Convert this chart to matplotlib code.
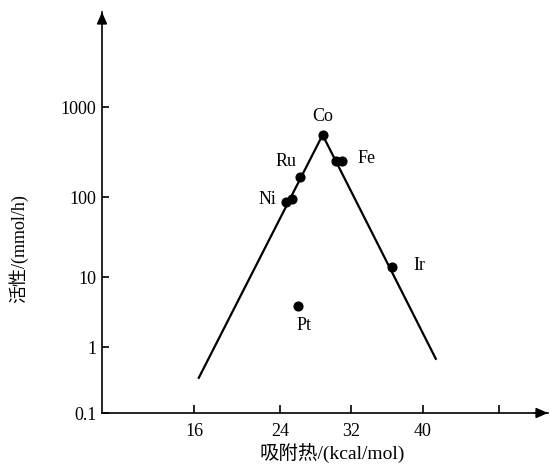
import numpy as np
import matplotlib
matplotlib.use('Agg')
import matplotlib.pyplot as plt

# 各金属的吸附热 (kcal/mol) 与活性 (mmol/h)
metals = ['Ni', 'Ni', 'Ru', 'Co', 'Fe', 'Fe', 'Ir', 'Pt']
heat = [24.7, 25.4, 26.3, 28.8, 30.3, 31.0, 36.6, 26.0]
activity = [87, 94, 166, 489, 249, 253, 13.2, 3.85]

# 火山型曲线（两段直线）
line_heat = [16.4, 28.8, 41.4]
line_act = [0.33, 489, 0.64]

xticks = [16, 24, 32, 40, 48]
xticklabels = ['16', '24', '32', '40', '']
yticks = [0.1, 1, 10, 100, 1000]
yticklabels = ['0.1', '1', '10', '100', '1000']

# 原图坐标轴刻度间距不均匀，用分段映射复现
x_ref = [8, 16, 24, 32, 40, 48, 53]
x_pos = [102, 194, 280, 351, 423, 499, 548]
y_ref = [-1, 0, 1, 2, 3, 4.06]
y_pos = [0, 66, 136, 216, 306, 401]


def fx(v):
    return np.interp(v, x_ref, x_pos)


def fx_inv(p):
    return np.interp(p, x_pos, x_ref)


def fy(v):
    return np.interp(np.log10(np.clip(v, 1e-6, None)), y_ref, y_pos)


def fy_inv(p):
    return 10 ** np.interp(p, y_pos, y_ref)


# 标注文字：(名称, 对应点序号, 偏移像素)
labels = [('Ni', 0, (-19, 2)), ('Ru', 2, (-14, 16)), ('Co', 3, (0, 18)),
          ('Fe', 5, (24, 2)), ('Ir', 6, (27, 2)), ('Pt', 7, (6, -19))]

serif = ['Liberation Serif', 'DejaVu Serif']
cjk = ['Liberation Serif', 'Noto Sans CJK SC', 'DejaVu Sans']

fig = plt.figure(figsize=(5.5, 4.67), dpi=100)
ax = fig.add_axes([102 / 550, 1 - 413 / 467, 446 / 550, 401 / 467])
ax.set_xscale('function', functions=(fx, fx_inv))
ax.set_yscale('function', functions=(fy, fy_inv))
ax.set_xlim(8, 53)
ax.set_ylim(0.1, 10 ** 4.06)

ax.plot(line_heat, line_act, color='k', lw=1.6, solid_capstyle='butt')
ax.plot(heat, activity, 'o', color='k', ms=6.3, mec='k')

for name, i, off in labels:
    ax.annotate(name, xy=(heat[i], activity[i]), xytext=off,
                textcoords='offset pixels', ha='center', va='center',
                fontsize=13, family=serif)

for s in ['top', 'right']:
    ax.spines[s].set_visible(False)
for s in ['left', 'bottom']:
    ax.spines[s].set_linewidth(1.2)

arrow = dict(arrowstyle='-|>,head_length=0.5,head_width=0.22', color='k',
             lw=1.2, mutation_scale=14, shrinkA=0, shrinkB=0)
ax.annotate('', xy=(0, 1), xytext=(0, 0.97), xycoords='axes fraction',
            arrowprops=arrow, annotation_clip=False)
ax.annotate('', xy=(1, 0), xytext=(0.97, 0), xycoords='axes fraction',
            arrowprops=arrow, annotation_clip=False)

ax.set_xticks(xticks)
ax.set_xticklabels(xticklabels, fontsize=13, family=serif)
ax.set_yticks(yticks)
ax.set_yticklabels(yticklabels, fontsize=13, family=serif)
ax.tick_params(axis='x', direction='in', length=6, width=1.2, pad=7)
ax.tick_params(axis='y', direction='in', length=5, width=1.2, pad=4)
ax.minorticks_off()

ax.set_xlabel('吸附热/(kcal/mol)', fontsize=14, family=cjk)
ax.set_ylabel('活性/(mmol/h)', fontsize=13, family=cjk)
ax.xaxis.set_label_coords((332 - 102) / 446, (413 - 444) / 401)
ax.yaxis.set_label_coords((28 - 102) / 446, (413 - 249) / 401)

fig.savefig('out.png', dpi=100)
